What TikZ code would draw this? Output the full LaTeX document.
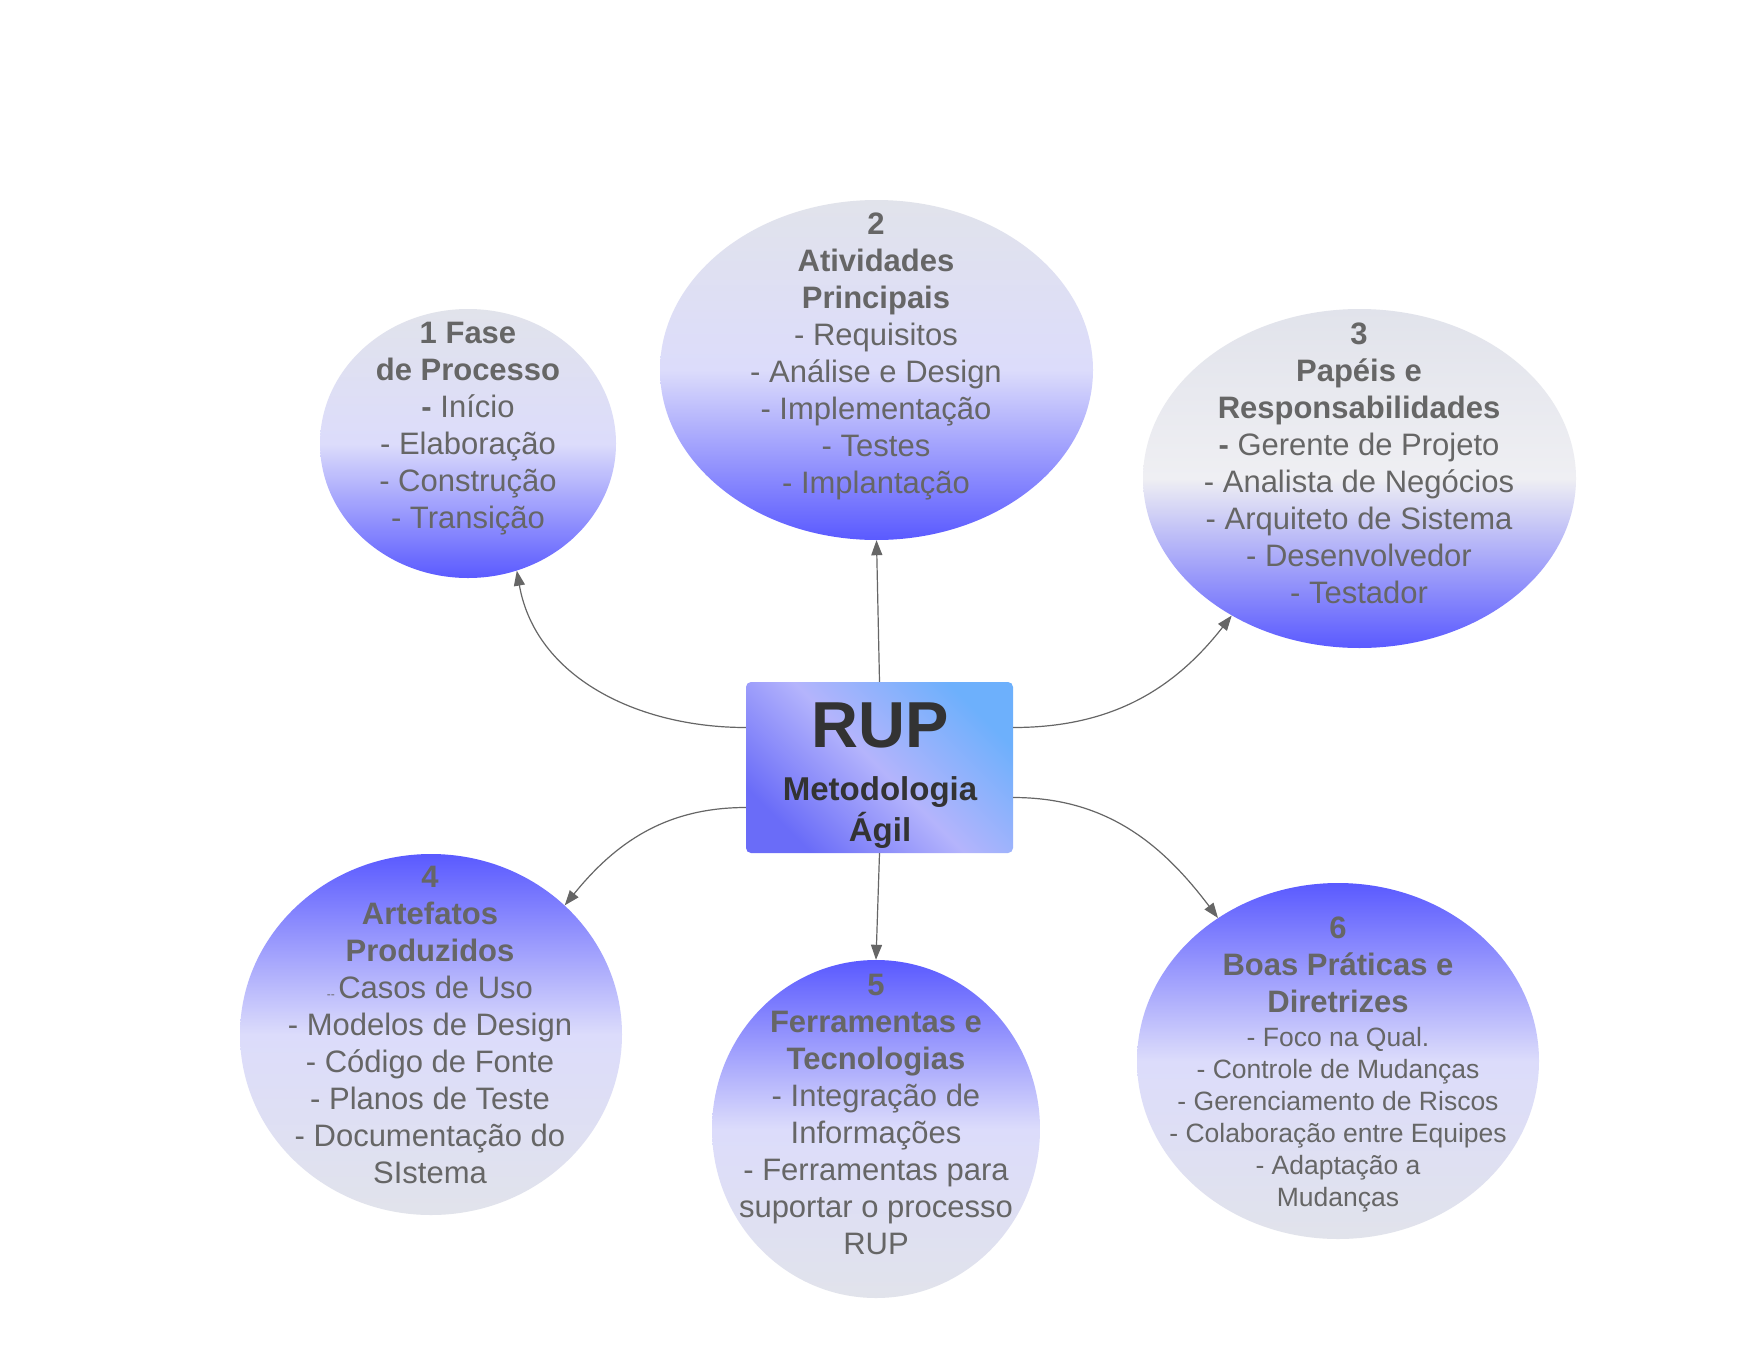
\documentclass[tikz,border=0pt]{standalone}
\usepackage{fontspec}
\setmainfont{Liberation Sans}
\usetikzlibrary{shapes.geometric}
\usetikzlibrary{arrows.meta}

\definecolor{bgrey}{HTML}{E1E3EB}
\definecolor{blav}{HTML}{DCDCFB}
\definecolor{bwhite}{HTML}{EFEFF3}
\definecolor{bblue}{HTML}{5A5AFF}
\definecolor{txtgrey}{HTML}{666666}
\definecolor{rupdark}{HTML}{333333}
\definecolor{rupsky}{HTML}{6DB0FC}
\definecolor{ruplav}{HTML}{B4B4FC}
\definecolor{rupviolet}{HTML}{6A6CF8}

\begin{document}
\begin{tikzpicture}[x=1pt,y=-1pt,
	bubble/.style={ellipse,inner sep=0pt},
	greytop/.style={top color=bgrey,bottom color=bblue,middle color=blav},
	whitetop/.style={top color=bgrey,bottom color=bblue,middle color=bwhite},
	bluetop/.style={top color=bblue,bottom color=bgrey,middle color=blav},
	rupbox/.style={rectangle,rounded corners=5pt,top color=rupsky,bottom color=rupviolet,middle color=ruplav,shading angle=-45},
	bubtxt/.style={align=center,text=txtgrey,font=\fontsize{31}{37}\selectfont},
	smalltxt/.style={align=center,text=txtgrey,font=\fontsize{26.5}{32}\selectfont},
	conn/.style={draw=txtgrey,line width=1.2pt,-{Triangle[length=15pt,width=11pt]}}]

\fill[white] (0,0) rectangle (1761,1360);
\useasboundingbox (0,0) rectangle (1761,1360);

%centre
\node[rupbox,minimum width=267,minimum height=171] (rup) at (879.5,767.5) {};
\node[font=\bfseries\fontsize{65}{70}\selectfont,text=rupdark,anchor=base] (ruptitle) at (880,747) {RUP};
\node[font=\bfseries\fontsize{33}{41}\selectfont,text=rupdark,align=center] (rupsub) at (880,813) {Metodologia\\Ágil};

%bubbles
\foreach \n/\x/\y/\w/\h/\s in {1/468/443.5/296/269/greytop,
	2/876.5/370/433/340/greytop,
	3/1359.5/478.5/433/339/whitetop,
	4/431/1034.5/382/361/bluetop,
	5/876/1129/328/338/bluetop,
	6/1338/1061/402/356/bluetop}
	\node[bubble,\s,minimum width=\w,minimum height=\h] (e\n) at (\x,\y) {};

%texts
\node[bubtxt] (t1) at (468,429) {\textbf{1 Fase}\\\textbf{de Processo}\\\textbf{-} Início\\- Elaboração\\- Construção\\- Transição};
\node[bubtxt] (t2) at (876,356) {\textbf{2}\\\textbf{Atividades}\\\textbf{Principais}\\- Requisitos\\- Análise e Design\\- Implementação\\- Testes\\- Implantação};
\node[bubtxt] (t3) at (1359,463) {\textbf{3}\\\textbf{Papéis e}\\\textbf{Responsabilidades}\\\textbf{-} Gerente de Projeto\\- Analista de Negócios\\- Arquiteto de Sistema\\- Desenvolvedor\\- Testador};
\node[bubtxt] (t4) at (430,1025) {\textbf{4}\\\textbf{Artefatos}\\\textbf{Produzidos}\\{\fontsize{12}{12}\selectfont -{}- }Casos de Uso\\- Modelos de Design\\- Código de Fonte\\- Planos de Teste\\- Documentação do\\SIstema};
\node[bubtxt] (t5) at (876,1114) {\textbf{5}\\\textbf{Ferramentas e}\\\textbf{Tecnologias}\\- Integração de\\Informações\\- Ferramentas para\\suportar o processo\\RUP};
\node[bubtxt] (t6) at (1338,965) {\textbf{6}\\\textbf{Boas Práticas e}\\\textbf{Diretrizes}};
\node[smalltxt] (t6b) at (1338,1120) {- Foco na Qual.\\- Controle de Mudanças\\- Gerenciamento de Riscos\\- Colaboração entre Equipes\\- Adaptação a\\Mudanças};

%arrows
\coordinate (p1) at ([yshift=40]rup.west);
\coordinate (p3) at ([yshift=40]rup.east);
\coordinate (p4) at ([yshift=-40]rup.west);
\coordinate (p6) at ([yshift=-30]rup.east);
\foreach \a/\b/\o/\i in {p1/e1.-69/180/-80, p3/e3.-133/0/-128, p4/e4.44/180/51, p6/e6.130/0/127}
	\draw[conn] (\a) to[out=\o,in=\i] (\b);
\draw[conn] (rup.north) -- (e2.south);
\draw[conn] (rup.south) -- (e5.north);
\end{tikzpicture}
\end{document}
